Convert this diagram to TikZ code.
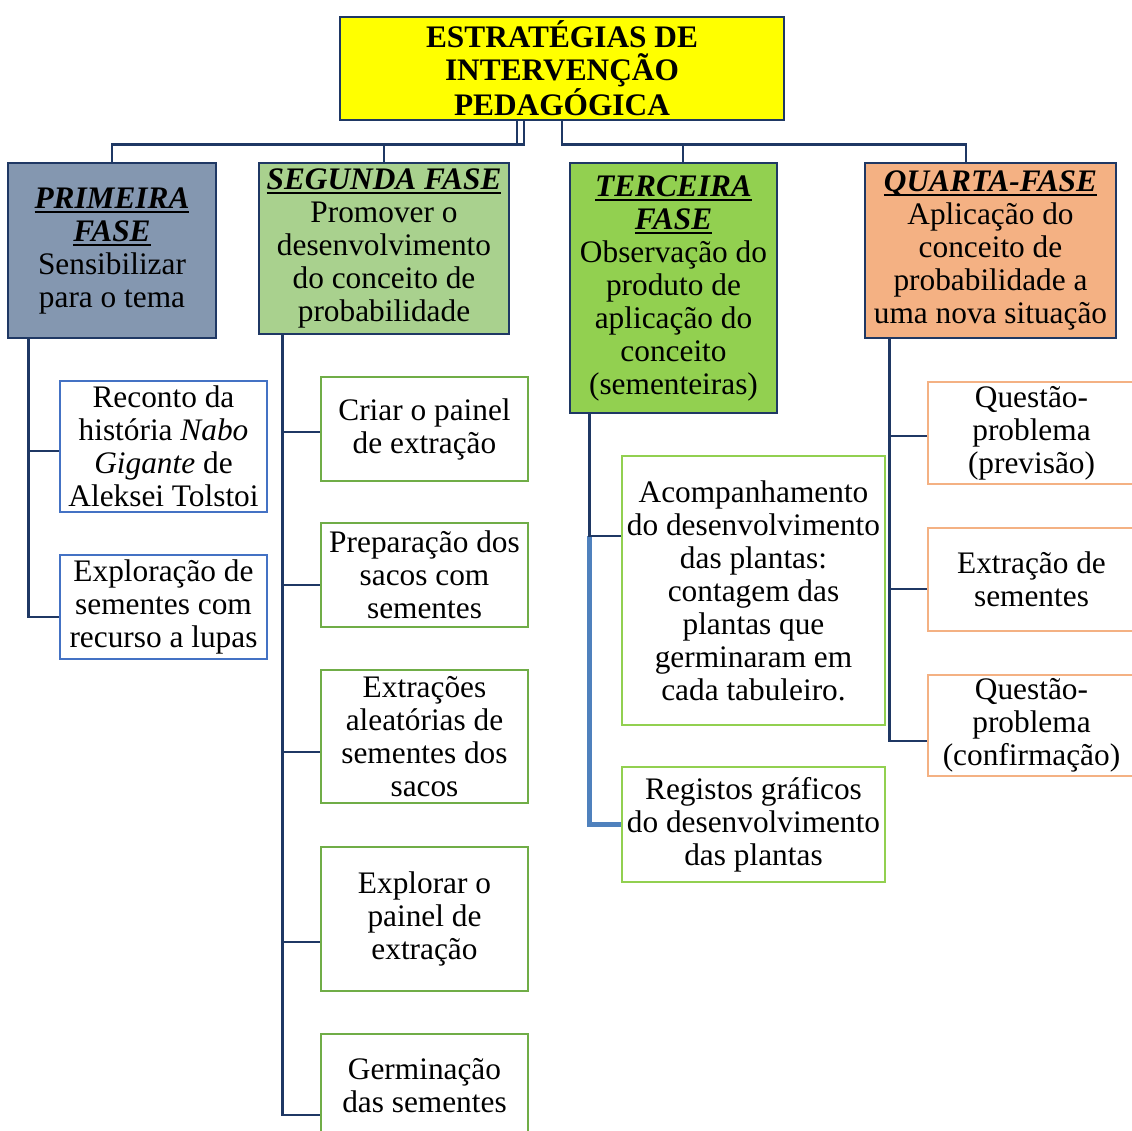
\documentclass[tikz,border=0pt]{standalone}
\usepackage{fontspec}
\setmainfont{Liberation Serif}
\usetikzlibrary{calc}
\definecolor{navy}{RGB}{31,56,100}
\definecolor{ylw}{RGB}{255,255,0}
\definecolor{grayblue}{RGB}{132,151,176}
\definecolor{lgreen}{RGB}{169,209,142}
\definecolor{mgreen}{RGB}{146,208,80}
\definecolor{peach}{RGB}{244,177,131}
\definecolor{cblue}{RGB}{68,114,196}
\definecolor{cgreen}{RGB}{112,173,71}
\definecolor{lconn}{RGB}{79,129,189}
\newcommand{\hd}[1]{\setbox0\hbox{\textbf{\textit{#1}}}\rlap{\usebox0}\rule[-3.6pt]{\wd0}{1.6pt}}
\tikzset{
  sz/.style 2 args={minimum width=#1*0.75pt, minimum height=#2*0.75pt},
  box/.style={draw=navy, line width=2.2pt, inner sep=0pt, align=center,
    font=\fontsize{23.5}{24.75}\selectfont},
  child/.style={draw=#1, line width=1.9pt, fill=white, inner sep=0pt, align=center,
    font=\fontsize{23.5}{24.75}\selectfont},
  conn/.style={draw=navy, line width=2.2pt},
  lconnline/.style={draw=lconn, line width=3.6pt},
}
\begin{document}
\begin{tikzpicture}[x=0.75pt,y=-0.75pt]
\useasboundingbox (0,0) rectangle (1132,1131);
\clip (0,0) rectangle (1132,1131);
% main
\node[box, fill=ylw, sz={444}{103}] (title) at (562,68.5)
  {\textbf{ESTRATÉGIAS DE}\\\textbf{INTERVENÇÃO}\\\textbf{PEDAGÓGICA}};
% phases
\node[box, fill=grayblue, sz={208}{175}] (p1) at (112,250.5)
  {\hd{PRIMEIRA}\\\hd{FASE}\\Sensibilizar\\para o tema};
\node[box, fill=lgreen, sz={250}{171}] (p2) at (384,248.5)
  {\hd{SEGUNDA FASE}\\Promover o\\desenvolvimento\\do conceito de\\probabilidade};
\node[box, fill=mgreen, sz={207}{250}] (p3) at (673.5,288)
  {\hd{TERCEIRA}\\\hd{FASE}\\Observação do\\produto de\\aplicação do\\conceito\\(sementeiras)};
\node[box, fill=peach, sz={251}{175}] (p4) at (990.5,250.5)
  {\hd{QUARTA-FASE}\\Aplicação do\\conceito de\\probabilidade a\\uma nova situação};
% title connectors
\draw[conn] ([xshift=-45*0.75pt]title.south) -- ++(0,23) -| (p1.north);
\draw[conn] ([xshift=-38*0.75pt]title.south) -- ++(0,23) -| (p2.north);
\draw[conn] (title.south) -- ++(0,23) -| ([xshift=9.5*0.75pt]p3.north);
\draw[conn] (title.south) -- ++(0,23) -| ([xshift=-24.5*0.75pt]p4.north);
% children of phase 1
\node[child=cblue, sz={207}{131}] (c11) at (163.5,446.5)
  {Reconto da\\história \textit{Nabo}\\\textit{Gigante} de\\Aleksei Tolstoi};
\node[child=cblue, sz={207}{104}] (c12) at (163.5,607)
  {Exploração de\\sementes com\\recurso a lupas};
% children of phase 2
\node[child=cgreen, sz={207}{104}] (c21) at (424.5,429) {Criar o painel\\de extração};
\node[child=cgreen, sz={207}{104}] (c22) at (424.5,575) {Preparação dos\\sacos com\\sementes};
\node[child=cgreen, sz={207}{133}] (c23) at (424.5,736.5) {Extrações\\aleatórias de\\sementes dos\\sacos};
\node[child=cgreen, sz={207}{144}] (c24) at (424.5,919) {Explorar o\\painel de\\extração};
\node[child=cgreen, sz={207}{104}] (c25) at (424.5,1086) {Germinação\\das sementes};
% children of phase 3
\node[child=mgreen, sz={263}{269}] (c31) at (753.5,590.5)
  {Acompanhamento\\do desenvolvimento\\das plantas:\\contagem das\\plantas que\\germinaram em\\cada tabuleiro.};
\node[child=mgreen, sz={263}{115}] (c32) at (753.5,824.5)
  {Registos gráficos\\do desenvolvimento\\das plantas};
% children of phase 4
\node[child=peach, sz={207}{102}] (c41) at (1031.5,433) {Questão-\\problema\\(previsão)};
\node[child=peach, sz={207}{103}] (c42) at (1031.5,579.5) {Extração de\\sementes};
\node[child=peach, sz={207}{101}] (c43) at (1031.5,725.5) {Questão-\\problema\\(confirmação)};
% child connectors
\coordinate (v1) at ([xshift=22*0.75pt]p1.south west);
\coordinate (v2) at ([xshift=25*0.75pt]p2.south west);
\coordinate (v3) at ([xshift=21*0.75pt]p3.south west);
\coordinate (v4) at ([xshift=26*0.75pt]p4.south west);
\draw[conn] (v1) |- (c11.west |- 0,451);
\draw[conn] (v1) |- (c12.west |- 0,617);
\draw[conn] (v2) |- (c21.west |- 0,432);
\draw[conn] (v2) |- (c22.west |- 0,585);
\draw[conn] (v2) |- (c23.west |- 0,752);
\draw[conn] (v2) |- (c24.west |- 0,942);
\draw[conn] (v2) |- (c25.west |- 0,1115);
\draw[lconnline] (v3 |- 0,536) |- (c32.west);
\draw[conn] (v3) |- (c31.west |- 0,536);
\draw[conn] (v4) |- (c41.west |- 0,436);
\draw[conn] (v4) |- (c42.west |- 0,589);
\draw[conn] (v4) |- (c43.west |- 0,741);
\end{tikzpicture}
\end{document}
